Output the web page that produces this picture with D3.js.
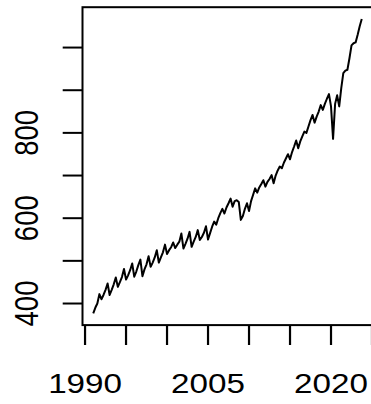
<!DOCTYPE html>
<html>
<head>
<meta charset="utf-8">
<script src="https://cdn.jsdelivr.net/npm/d3@7"></script>
<style>
  html, body { margin: 0; padding: 0; background: #fff; }
  svg { display: block; }
  text { font-family: "Liberation Sans", Arial, Helvetica, sans-serif; fill: #000; }
</style>
</head>
<body>
<svg id="chart" width="371" height="404"></svg>
<script>
// quarterly series, 1991 Q1 .. 2023 Q4
var startYear = 1991;
var values = [
  377, 390, 400, 422,
  410, 420, 432, 447,
  420, 432, 445, 461,
  439, 450, 462, 481,
  456, 466, 478, 494,
  463, 475, 490, 503,
  464, 480, 492, 511,
  486, 496, 508, 525,
  496, 508, 520, 538,
  516, 525, 532, 543,
  530, 538, 545, 564,
  529, 540, 552, 568,
  533, 545, 556, 572,
  549, 556, 566, 581,
  550, 565, 580, 592,
  585, 600, 612, 622,
  611, 625, 635, 646,
  627, 640, 642, 638,
  596, 605, 622, 635,
  617, 640, 655, 670,
  660, 672, 680, 689,
  674, 685, 692, 701,
  682, 700, 712, 721,
  717, 730, 740, 750,
  738, 755, 768, 782,
  764, 780, 792, 803,
  800, 815, 830, 842,
  824, 838, 850, 865,
  854, 868, 880, 891,
  862, 786, 868, 888,
  862, 905, 940, 946,
  948, 975, 1005, 1010,
  1012, 1030, 1050, 1067
];
var xTicks = [1990, 1995, 2000, 2005, 2010, 2015, 2020, 2025];
var xLabels = [1990, 2005, 2020];
var yTicks = [400, 500, 600, 700, 800, 900, 1000];
var yLabels = [400, 600, 800];

var data = values.map(function (v, i) {
  return { t: startYear + i / 4, v: v };
});

var svg = d3.select('#chart');

// plot region (R base style, 4% padding on both axes)
var plotLeft = 82.5, plotRight = 372.5, plotTop = 7.2, plotBottom = 325.1;
var sx = 1.23; // text is drawn a bit wider than tall

var xExt = d3.extent(data, function (d) { return d.t; });
var xPad = (xExt[1] - xExt[0]) * 0.04;
var yExt = d3.extent(data, function (d) { return d.v; });
var yPad = (yExt[1] - yExt[0]) * 0.04;

var x = d3.scaleLinear()
  .domain([xExt[0] - xPad, xExt[1] + xPad])
  .range([plotLeft, plotRight]);
var y = d3.scaleLinear()
  .domain([yExt[0] - yPad, yExt[1] + yPad])
  .range([plotBottom, plotTop]);

// series line
svg.append('path')
  .datum(data)
  .attr('d', d3.line().x(function (d) { return x(d.t); }).y(function (d) { return y(d.v); }))
  .style('fill', 'none')
  .style('stroke', '#000')
  .style('stroke-width', 2)
  .style('stroke-linejoin', 'round');

// box
svg.append('rect')
  .attr('x', plotLeft)
  .attr('y', plotTop)
  .attr('width', plotRight - plotLeft)
  .attr('height', plotBottom - plotTop)
  .style('fill', 'none')
  .style('stroke', '#000')
  .style('stroke-width', 2);

// x axis ticks
svg.selectAll('.xtick')
  .data(xTicks)
  .enter()
  .append('line')
  .attr('class', 'xtick')
  .attr('x1', function (d) { return x(d); })
  .attr('x2', function (d) { return x(d); })
  .attr('y1', plotBottom)
  .attr('y2', 345)
  .style('stroke', '#000')
  .style('stroke-width', 2.2);

svg.selectAll('.xlab')
  .data(xLabels)
  .enter()
  .append('text')
  .attr('class', 'xlab')
  .attr('transform', function (d) { return 'translate(' + x(d) + ',392.7) scale(' + sx + ',1)'; })
  .attr('text-anchor', 'middle')
  .style('font-size', '27px')
  .text(function (d) { return d; });

// y axis ticks
svg.selectAll('.ytick')
  .data(yTicks)
  .enter()
  .append('line')
  .attr('class', 'ytick')
  .attr('x1', 62.7)
  .attr('x2', plotLeft)
  .attr('y1', function (d) { return y(d); })
  .attr('y2', function (d) { return y(d); })
  .style('stroke', '#000')
  .style('stroke-width', 2);

svg.selectAll('.ylab')
  .data(yLabels)
  .enter()
  .append('text')
  .attr('class', 'ylab')
  .attr('transform', function (d) { return 'translate(38.3,' + y(d) + ') scale(' + sx + ',1) rotate(-90)'; })
  .attr('text-anchor', 'middle')
  .style('font-size', '27.5px')
  .text(function (d) { return d; });
</script>
</body>
</html>
